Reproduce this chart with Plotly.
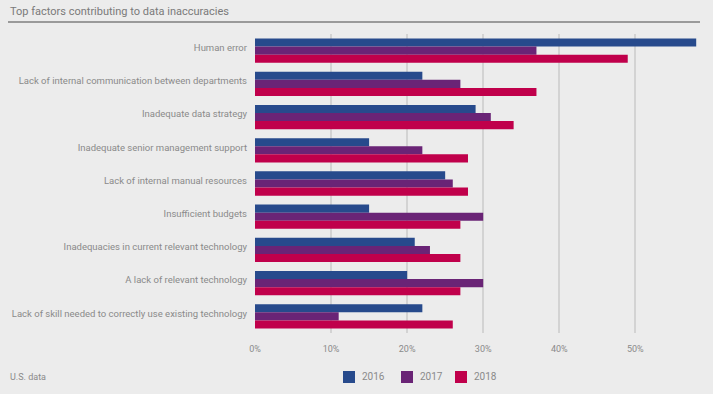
import plotly.graph_objects as go

categories = [
    "Human error",
    "Lack of internal communication between departments",
    "Inadequate data strategy",
    "Inadequate senior management support",
    "Lack of internal manual resources",
    "Insufficient budgets",
    "Inadequacies in current relevant technology",
    "A lack of relevant technology",
    "Lack of skill needed to correctly use existing technology",
]
years = ["2016", "2017", "2018"]
values_2016 = [58, 22, 29, 15, 25, 15, 21, 20, 22]
values_2017 = [37, 27, 31, 22, 26, 30, 23, 30, 11]
values_2018 = [49, 37, 34, 28, 28, 27, 27, 27, 26]
tick_vals = [0, 10, 20, 30, 40, 50]
tick_text = ["0%", "10%", "20%", "30%", "40%", "50%"]

colors = ["#274a8c", "#6a2476", "#c0004b"]
series = [values_2016, values_2017, values_2018]

W, H = 713, 394
L, R, T, B = 255, 13, 34, 61
PW, PH = W - L - R, H - T - B
BG = "#ececec"
FONT = "Roboto"
TXT = "#8a8a8a"


def px_x(x):
    return (x - L) / PW


def px_y(y):
    return (H - B - y) / PH


fig = go.Figure()
for name, vals, col in zip(years, series, colors):
    fig.add_trace(go.Bar(
        y=categories, x=vals, name=name, orientation="h",
        marker=dict(color=col, line=dict(width=0)),
    ))

fig.update_layout(
    width=W, height=H,
    margin=dict(l=L, r=R, t=T, b=B, autoexpand=False),
    paper_bgcolor=BG, plot_bgcolor=BG,
    barmode="group", bargap=0.27, bargroupgap=0,
    font=dict(family=FONT, size=9, color=TXT),
    showlegend=False,
    xaxis=dict(
        range=[0, 58.5], tickvals=tick_vals, ticktext=tick_text,
        showgrid=True, gridcolor="#d3d3d3", gridwidth=1.5,
        zeroline=False, showline=False, ticks="",
        ticklabelstandoff=9, tickfont=dict(size=9, color=TXT),
        fixedrange=True,
    ),
    yaxis=dict(
        autorange="reversed", showgrid=False, zeroline=False,
        ticks="", ticklabelstandoff=7, ticklabelshift=3,
        tickfont=dict(size=9.5, color=TXT),
        showline=False,
    ),
)

# manual legend (squares + labels)
legend_x = [343, 401, 455]
for name, col, lx in zip(years, colors, legend_x):
    fig.add_shape(
        type="rect", xref="paper", yref="paper",
        x0=px_x(lx), x1=px_x(lx + 12), y0=px_y(383), y1=px_y(371),
        fillcolor=col, line=dict(width=0),
    )
    fig.add_annotation(
        text=name, xref="paper", yref="paper",
        x=px_x(lx + 17), y=px_y(377), xanchor="left", yanchor="middle",
        showarrow=False, font=dict(family=FONT, size=10, color=TXT),
    )

fig.add_annotation(
    text="Top factors contributing to data inaccuracies",
    xref="paper", yref="paper",
    x=px_x(8), y=px_y(11),
    xanchor="left", yanchor="middle", showarrow=False,
    font=dict(family=FONT, size=11, color="#7a7a7a"),
)
fig.add_annotation(
    text="U.S. data",
    xref="paper", yref="paper",
    x=px_x(8), y=px_y(377),
    xanchor="left", yanchor="middle", showarrow=False,
    font=dict(family=FONT, size=9, color=TXT),
)
fig.add_shape(
    type="line", xref="paper", yref="paper",
    x0=px_x(8), x1=px_x(700), y0=px_y(22), y1=px_y(22),
    line=dict(color="#9a9a9a", width=2),
)

fig.write_html(
    "out.html",
    config={"displayModeBar": False},
    post_script="document.body.style.margin='0';document.body.style.background='#ececec';",
)
